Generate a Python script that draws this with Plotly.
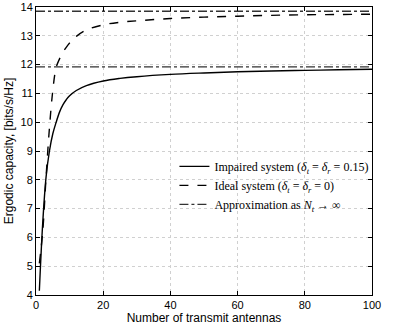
import plotly.graph_objects as go

antennas = [1, 2, 3, 4, 5, 6, 7, 8, 9, 10, 12, 15, 20, 25, 30, 40, 50, 60, 70, 80, 90, 100]
impaired = [4.15, 6.5, 8.1, 9.0, 9.6, 10.0, 10.35, 10.6, 10.78, 10.92, 11.1, 11.27, 11.43,
            11.52, 11.58, 11.66, 11.71, 11.75, 11.78, 11.8, 11.82, 11.84]
ideal = [5.1, 6.2, 8.1, 9.8, 11.1, 11.9, 12.2, 12.42, 12.6, 12.75, 12.98, 13.2, 13.38,
         13.47, 13.52, 13.6, 13.65, 13.68, 13.71, 13.73, 13.74, 13.75]
approx_x = [0, 100]
approx_impaired = 11.92
approx_ideal = 13.85

fig = go.Figure()
fig.add_trace(go.Scatter(
    x=antennas, y=impaired, mode="lines", line_shape="spline",
    line=dict(color="black", width=1.4, dash="solid"),
    name="Impaired system (<i>δ<sub>t</sub></i> = <i>δ<sub>r</sub></i> = 0.15)"
))
fig.add_trace(go.Scatter(
    x=antennas, y=ideal, mode="lines", line_shape="spline",
    line=dict(color="black", width=1.4, dash="dash"),
    name="Ideal system (<i>δ<sub>t</sub></i> = <i>δ<sub>r</sub></i> = 0)"
))
fig.add_trace(go.Scatter(
    x=approx_x, y=[approx_impaired] * 2, mode="lines",
    line=dict(color="#333333", width=1.4, dash="dashdot"),
    name="Approximation as <i>N<sub>t</sub></i> → ∞"
))
fig.add_trace(go.Scatter(
    x=approx_x, y=[approx_ideal] * 2, mode="lines",
    line=dict(color="#333333", width=1.4, dash="dashdot"),
    showlegend=False
))

axis = dict(
    showline=True, linecolor="black", linewidth=1, mirror="ticks",
    ticks="inside", ticklen=4, tickcolor="black",
    showgrid=True, gridcolor="#d0d0d0", griddash="dot", gridwidth=1,
    zeroline=False, tickfont=dict(size=11, color="black"),
    automargin=False,
)
fig.update_xaxes(axis, range=[0, 100], tickvals=[0, 20, 40, 60, 80, 100],
                 title=dict(text="Number of transmit antennas", font=dict(size=12, color="black"),
                            standoff=2))
fig.update_yaxes(axis, range=[4, 14], dtick=1,
                 title=dict(text="Ergodic capacity, [bits/s/Hz]", font=dict(size=12, color="black"),
                            standoff=4))

fig.update_layout(
    width=416, height=326,
    margin=dict(l=36, r=44, t=7, b=31),
    plot_bgcolor="white", paper_bgcolor="white",
    font=dict(family="Liberation Sans, Arial, sans-serif"),
    legend=dict(
        x=0.412, y=0.497, xanchor="left", yanchor="top",
        bgcolor="rgba(255,255,255,0)", borderwidth=0,
        font=dict(family="Liberation Serif, DejaVu Serif, serif", size=12, color="black"),
        itemwidth=30, tracegroupgap=0,
    ),
    showlegend=True,
)

# drop the page's default body margin so the 416x326 figure fills the window
fig.write_html("out.html", config={"displayModeBar": False},
               post_script="document.body.style.margin = '0px';")
